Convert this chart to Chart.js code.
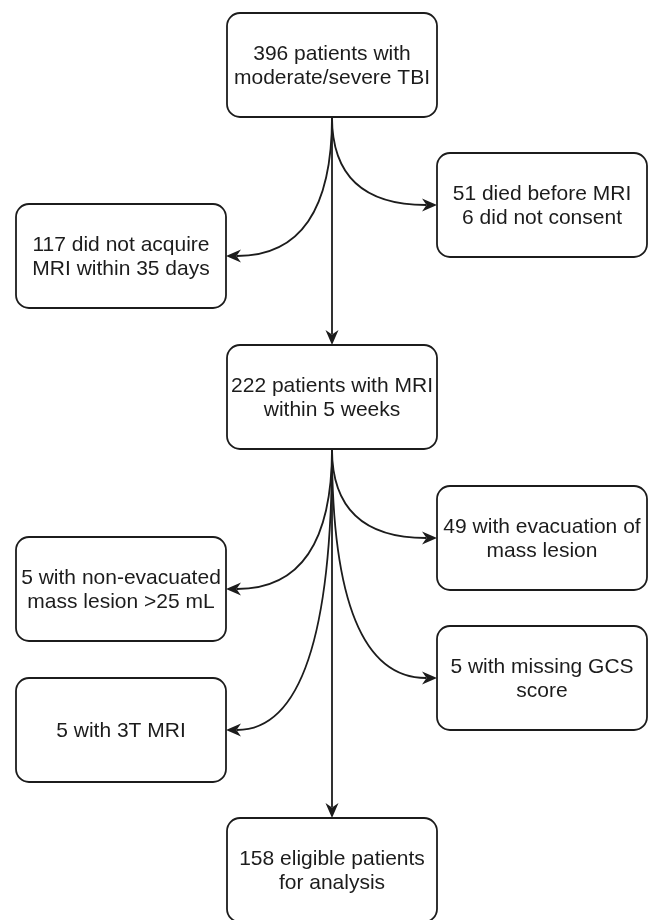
<!DOCTYPE html>
<html>
<head>
<meta charset="utf-8">
<script src="https://cdn.jsdelivr.net/npm/chart.js@4"></script>
<style>
  body { margin: 0; background: #fff; }
  #wrap { width: 649px; height: 920px; position: relative; }
</style>
</head>
<body>
<div id="wrap"><canvas id="flow"></canvas></div>
<script>
// box texts, in flow order
const nodeLabels = [
  ["396 patients with", "moderate/severe TBI"],
  ["51 died before MRI", "6 did not consent"],
  ["117 did not acquire", "MRI within 35 days"],
  ["222 patients with MRI", "within 5 weeks"],
  ["49 with evacuation of", "mass lesion"],
  ["5 with non-evacuated", "mass lesion >25 mL"],
  ["5 with missing GCS", "score"],
  ["5 with 3T MRI"],
  ["158 eligible patients", "for analysis"]
];
// arrows: [from, to]
const edges = [[0, 1], [0, 2], [0, 3], [3, 4], [3, 5], [3, 6], [3, 7], [3, 8]];

// layout (chart units = page pixels)
const colLeft = [16, 227, 437];
const nodeCol = [1, 2, 0, 1, 2, 0, 2, 0, 1];
const nodeTop = [13, 153, 204, 345, 486, 537, 626, 678, 818];
const BOX_W = 210, BOX_H = 104;

const centers = nodeLabels.map((_, i) => ({
  x: colLeft[nodeCol[i]] + BOX_W / 2,
  y: nodeTop[i] + BOX_H / 2
}));

const INK = "#1c1c1c";

function roundBox(ctx, x, y, w, h, r) {
  ctx.beginPath();
  ctx.moveTo(x + r, y);
  ctx.lineTo(x + w - r, y);
  ctx.arcTo(x + w, y, x + w, y + r, r);
  ctx.lineTo(x + w, y + h - r);
  ctx.arcTo(x + w, y + h, x + w - r, y + h, r);
  ctx.lineTo(x + r, y + h);
  ctx.arcTo(x, y + h, x, y + h - r, r);
  ctx.lineTo(x, y + r);
  ctx.arcTo(x, y, x + r, y, r);
  ctx.closePath();
}

// classic draw.io style arrow head, tip at (x,y), pointing along angle a
function arrowHead(ctx, x, y, a) {
  const L = 15, W = 6.5, N = 10.5;
  ctx.save();
  ctx.translate(x, y);
  ctx.rotate(a);
  ctx.beginPath();
  ctx.moveTo(0, 0);
  ctx.lineTo(-L, -W);
  ctx.lineTo(-N, 0);
  ctx.lineTo(-L, W);
  ctx.closePath();
  ctx.fillStyle = INK;
  ctx.fill();
  ctx.restore();
}

const flowPlugin = {
  id: "flow",
  beforeDraw(chart) {
    const ctx = chart.ctx;
    ctx.save();
    ctx.fillStyle = "#fff";
    ctx.fillRect(0, 0, chart.width, chart.height);
    ctx.restore();
  },
  afterDatasetsDraw(chart) {
    const ctx = chart.ctx;
    const sx = chart.scales.x, sy = chart.scales.y;
    const px = v => sx.getPixelForValue(v);
    const py = v => sy.getPixelForValue(v);

    ctx.save();
    ctx.strokeStyle = INK;
    ctx.lineWidth = 1.8;

    // arrows
    edges.forEach(([a, b]) => {
      const x0 = px(centers[a].x), y0 = py(nodeTop[a] + BOX_H);
      if (nodeCol[a] === nodeCol[b]) {
        const y1 = py(nodeTop[b]);
        ctx.beginPath();
        ctx.moveTo(x0, y0);
        ctx.lineTo(x0, y1 - 11);
        ctx.stroke();
        arrowHead(ctx, x0, y1, Math.PI / 2);
      } else {
        const right = nodeCol[b] > nodeCol[a];
        const tx = px(right ? colLeft[nodeCol[b]] : colLeft[nodeCol[b]] + BOX_W);
        const ty = py(centers[b].y);
        const ex = right ? tx - 11 : tx + 11;
        ctx.beginPath();
        ctx.moveTo(x0, y0);
        ctx.quadraticCurveTo(x0, ty, ex, ty);
        ctx.stroke();
        arrowHead(ctx, tx, ty, right ? 0 : Math.PI);
      }
    });

    // boxes and texts
    ctx.font = "21px 'Liberation Sans', Arial, sans-serif";
    ctx.textAlign = "center";
    ctx.textBaseline = "middle";
    nodeLabels.forEach((lines, i) => {
      const x = px(colLeft[nodeCol[i]]), y = py(nodeTop[i]);
      const w = px(colLeft[nodeCol[i]] + BOX_W) - x;
      const h = py(nodeTop[i] + BOX_H) - y;
      roundBox(ctx, x, y, w, h, 13);
      ctx.fillStyle = "#fff";
      ctx.fill();
      ctx.stroke();
      ctx.fillStyle = INK;
      const lh = 24;
      const cx = px(centers[i].x), cy = py(centers[i].y);
      lines.forEach((t, k) => {
        ctx.fillText(t, cx, cy + 1 + (k - (lines.length - 1) / 2) * lh);
      });
    });
    ctx.restore();
  }
};

new Chart(document.getElementById("flow"), {
  type: "scatter",
  data: {
    datasets: [{
      data: centers,
      pointRadius: 0
    }]
  },
  options: {
    responsive: true,
    maintainAspectRatio: false,
    animation: false,
    layout: { padding: 0 },
    events: [],
    plugins: { legend: { display: false }, tooltip: { enabled: false } },
    scales: {
      x: { type: "linear", min: 0, max: 649, display: false },
      y: { type: "linear", min: 0, max: 920, reverse: true, display: false }
    }
  },
  plugins: [flowPlugin]
});
</script>
</body>
</html>
